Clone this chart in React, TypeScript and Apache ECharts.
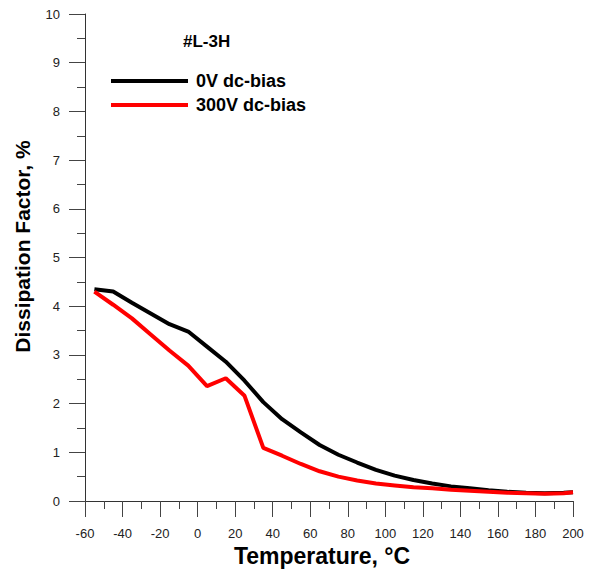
import React, { useEffect, useRef } from "react";
import * as echarts from "echarts";

const temps = [-55, -45, -35, -25, -15, -5, 5, 15, 25, 35, 45, 55, 65, 75, 85, 95, 105, 115, 125, 135, 145, 155, 165, 175, 185, 195, 200];
const df0V = [4.35, 4.30, 4.07, 3.85, 3.63, 3.48, 3.17, 2.86, 2.47, 2.03, 1.68, 1.41, 1.15, 0.95, 0.79, 0.64, 0.52, 0.43, 0.36, 0.30, 0.26, 0.22, 0.19, 0.17, 0.16, 0.17, 0.18];
const df300V = [4.30, 4.03, 3.75, 3.42, 3.09, 2.78, 2.36, 2.52, 2.16, 1.09, 0.93, 0.76, 0.61, 0.50, 0.42, 0.36, 0.32, 0.28, 0.26, 0.23, 0.21, 0.19, 0.17, 0.16, 0.15, 0.16, 0.18];
const seriesNames = ["0V dc-bias", "300V dc-bias"];
const seriesColors = ["#000000", "#ff0000"];
const titleText = "#L-3H";
const xName = "Temperature, °C";
const yName = "Dissipation Factor, %";

const FONT = "Arial, 'Liberation Sans', sans-serif";

export default function App() {
  const ref = useRef<HTMLDivElement>(null);
  useEffect(() => {
    if (!ref.current) return;
    const chart = echarts.init(ref.current, undefined, { renderer: "svg" });
    const mk = (arr: number[]) => temps.map((t, i) => [t, arr[i]]);
    chart.setOption({
      animation: false,
      backgroundColor: "#ffffff",
      title: {
        text: titleText,
        left: 183,
        top: 33,
        padding: 0,
        textStyle: { fontFamily: FONT, fontSize: 17, fontWeight: "bold", color: "#000" },
      },
      legend: {
        orient: "vertical",
        left: 111,
        top: 71,
        padding: 0,
        itemWidth: 77,
        itemHeight: 4,
        itemGap: 4,
        icon: "rect",
        data: seriesNames,
        textStyle: { fontFamily: FONT, fontSize: 18, fontWeight: "bold", color: "#000", lineHeight: 20, padding: [0, 0, 0, 3] },
      },
      grid: { left: 85, right: 18, top: 14, bottom: 72, containLabel: false },
      xAxis: {
        type: "value",
        min: -60,
        max: 200,
        interval: 20,
        name: xName,
        nameLocation: "middle",
        nameGap: 42,
        nameTextStyle: { fontFamily: FONT, fontSize: 23, fontWeight: "bold", color: "#000", padding: [0, 14, 0, 0] },
        axisLine: { onZero: false, lineStyle: { color: "#333", width: 1 } },
        axisTick: { show: true, length: 16, inside: false, lineStyle: { color: "#444" } },
        minorTick: { show: true, splitNumber: 2, length: 8, lineStyle: { color: "#444" } },
        splitLine: { show: false },
        axisLabel: { margin: 26, fontFamily: FONT, fontSize: 13, color: "#222" },
      },
      yAxis: {
        type: "value",
        min: 0,
        max: 10,
        interval: 1,
        name: yName,
        nameLocation: "middle",
        nameGap: 52,
        nameTextStyle: { fontFamily: FONT, fontSize: 21, fontWeight: "bold", color: "#000", padding: [0, 0, 0, 22] },
        axisLine: { show: true, onZero: false, lineStyle: { color: "#333", width: 1 } },
        axisTick: { show: true, length: 16, inside: false, lineStyle: { color: "#444" } },
        minorTick: { show: true, splitNumber: 2, length: 8, lineStyle: { color: "#444" } },
        splitLine: { show: false },
        axisLabel: { margin: 25, fontFamily: FONT, fontSize: 13, color: "#222" },
      },
      series: [
        {
          name: seriesNames[0],
          type: "line",
          data: mk(df0V),
          showSymbol: false,
          symbol: "none",
          lineStyle: { color: seriesColors[0], width: 4 },
          itemStyle: { color: seriesColors[0] },
          z: 2,
        },
        {
          name: seriesNames[1],
          type: "line",
          data: mk(df300V),
          showSymbol: false,
          symbol: "none",
          lineStyle: { color: seriesColors[1], width: 4 },
          itemStyle: { color: seriesColors[1] },
          z: 3,
        },
      ],
    });
    return () => chart.dispose();
  }, []);
  return <div ref={ref} style={{ width: 591, height: 573, position: "absolute", left: 0, top: 0 }} />;
}
